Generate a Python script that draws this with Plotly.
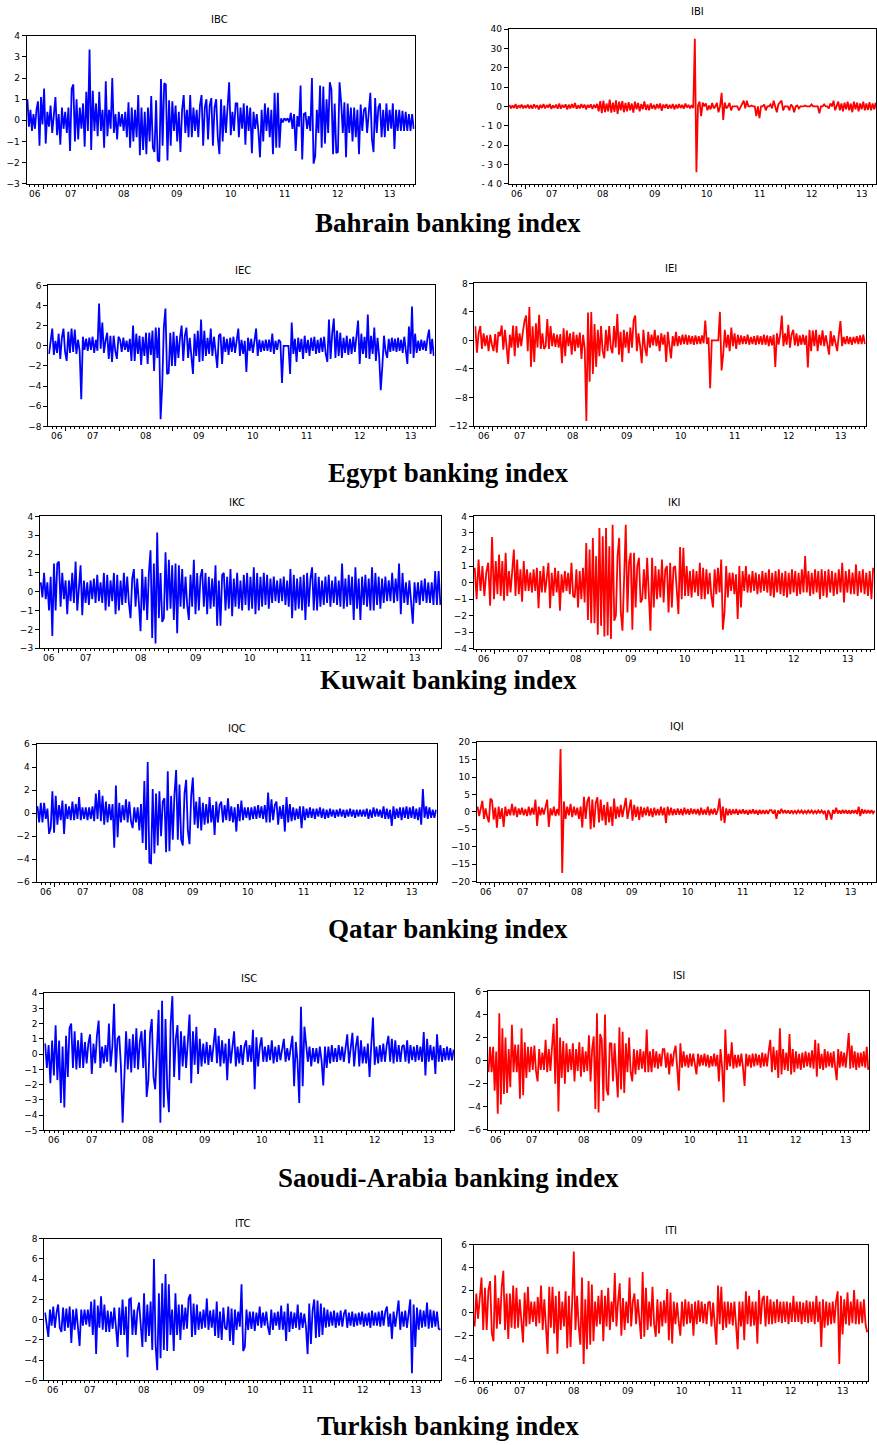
import plotly.graph_objects as go

W, H = 877, 1445
YEAR_STARTS = [2007, 2008, 2009, 2010, 2011, 2012, 2013]
YEAR_LABELS = ["06", "07", "08", "09", "10", "11", "12", "13"]
DATA_START, DATA_END = 2006.67, 2013.93

# Each series: one list per year segment (06 partial, 07 ... 12, 13 partial)
IBC = [
    [1.0, -0.3, 0.5, -0.5, 0.3, -0.4, 0.5, 0.9, -1.2, 1.1, -0.2],
    [1.5, -1.1, 0.4, -0.3, 0.7, -0.6, 0.5, 1.1, -0.7, 0.3, -1.15, 0.6, -0.4, 0.4, -0.6, 0.6, -1.45, 1.5, 1.7, -1.0, 1.0, -0.9, 0.6, -0.4, 0.8, -1.25, 1.35, -0.5, 3.35, -1.4, 1.4, -0.5, 0.8],
    [-0.75, 1.35, -0.5, 0.5, -1.3, 1.85, -0.75, 0.5, -0.4, 2.0, -0.6, 0.3, -0.9, 0.4, -0.3, 0.3, -0.5, 0.4, -0.8, 0.85, -1.3, 0.6, -1.0, 0.5, -0.8, 1.2, -1.65, 0.6, -1.4, 0.4, -1.6, 0.6, -1.0],
    [1.15, -1.3, -1.5, 0.95, -1.9, -1.95, 1.95, -1.2, 1.75, 1.7, -1.9, 0.95, -1.2, 0.9, -0.5, 0.7, -1.0, 0.4, -1.5, 0.5, 1.2, -0.6, 0.5, -0.8, 1.2, -0.8, 0.6, -0.5, 0.5, -0.8, 0.7, 1.2, -1.2],
    [0.6, 1.0, -0.9, 0.7, 1.05, -1.2, 0.6, 1.0, -0.8, -1.6, 1.0, -1.0, 0.7, -0.6, 0.5, 1.8, -0.7, 0.4, -0.5, 0.8, 0.8, -0.8, 0.6, -0.4, 0.8, -1.15, 0.7, -0.5, 0.6, -1.55, 0.4, -0.4, 0.3],
    [-0.5, -1.75, 0.5, -1.0, 0.8, -0.5, 0.6, -0.8, 0.5, -1.6, 1.3, -1.3, 1.3, -1.3, 0.1, -0.1, 0.1, 0.0, 0.1, -0.1, 0.35, -0.4, 0.3, -1.45, 0.2, -0.3, 1.65, -1.85, 0.3, 0.35, -0.4, 0.2, -0.5],
    [2.0, -2.05, -1.7, 0.5, -0.6, 1.65, -1.3, 1.6, -1.1, 1.0, -0.6, 1.8, 1.45, -1.6, 0.8, -1.55, -1.5, 1.8, 0.85, -0.6, 0.85, -1.75, 0.8, -0.6, 0.6, -1.0, 0.6, -0.8, 0.5, -1.6, 0.75, -0.5, 0.5],
    [0.6, -0.6, 0.5, 1.3, -0.9, -1.5, 1.05, -0.6, 0.6, 0.8, -0.8, 0.5, -0.8, 0.8, -0.5, 0.5, -0.4, 0.8, -1.35, 0.5, -0.5, 0.5, -0.5, 0.45, -0.5, 0.4, -0.5, 0.3, -0.5, 0.3, -0.4],
]
IBI = [
    [0.8, -1, 0.5, -0.8, 1.2, -1.2, 0.6, -0.5, 0.9, -1, 0.5],
    [-0.8, 1, -1, 0.7, -1.2, 1.1, -0.5, 0.6, -1.5, 0.8, -0.8, 1.2, -1, 0.7, -0.6, 1.3, -1.3, 0.5, -0.8, 1, -1.2, 1.5, -1.2, 0.8, -0.6, 1.1, -1.5, 0.9, -1, 1.2, -0.8, 1.8, -1.2],
    [0.6, -1, 1.2, -0.8, 1, -1.5, 0.8, -0.6, 1.1, -1.3, 0.9, -0.7, 1.3, -2.5, 2.8, -3.5, 3, -3, 1.5, -2.5, 3.5, -3.2, 2, -2.8, 3.2, -3.8, 2.5, -2, 2.8, -3, 1.8, -2.5, 2.2],
    [-2, 1.5, -3.2, 2.5, -1.5, 1.8, -2.5, 1.2, -1.5, 2.6, -1.8, 1, -2, 1.6, -1.2, 0.9, -1.5, 1.3, -1, 1.5, -2.2, 1, -0.8, 1.2, -1.2, 0.8, -1, 1.3, -1.5, 0.9, -1, 1.2, -0.8],
    [0.8, -1.2, 1.5, -0.5, 0.8, -1, 0.6, -0.8, 35, -34, 0.5, 2.5, -5, 2, 0, 1.5, -2, 0.5, -1.5, 1.8, -1, 0, 1.8, -3, 0, 7, -7, 2, -1, 0, 1.8, -2, 0],
    [0, 0, 0, -2, 0, 1, 3, -1, 3, 0, 0, 0.5, 0, 0, -5, 0, -6, 0, 0, 1, -2, 0, 0, 1, -1, 3, 0, -3, 1, 2, 3, -2, 0],
    [0, 0, -2, 1, 0, -3, 0, 0.5, -1, 0, 0, 0, 0.5, 0, 0, 0, 1, 0, 0, 0, 0, -3.5, 0, 0, 1, 0, 0, -1, 1.5, 0, 3, -2, 0.8],
    [2.5, -2, 1.5, -2.5, 2, -1.5, 2.5, -2, 1.5, -3, 2.5, -1.5, 2, -2.5, 1.5, -1.5, 2.5, -2, 1.5, -1.8, 2.2, -2, 1.5, -1.5, 2, -2.5, 1.5, -1.5, 2, -2, 1],
]
IEC = [
    [-0.8, 0.6, 1.7, -0.9, 0.5, -0.7, 1.2, -1.3, 0.8, 1.7, -0.6],
    [-1.5, 1.4, -0.7, 1.7, -0.6, 1.6, -0.8, 0.6, -0.5, -5.3, 0.9, -0.4, 0.7, -0.5, 0.8, -0.4, 0.9, -0.7, 0.6, -0.5, 4.2, -0.3, 2.3, -0.7, 0.5, 1.3, -1.3, 1.0, -1.6, 1.0, -0.5, -1.3, 0.9],
    [0.6, -0.6, 0.8, -0.4, 0.5, -0.6, 0.7, -1.5, 2.0, -1.5, 1.2, -0.8, 1.0, -1.9, 0.9, -1.0, 1.3, -1.8, 1.3, -0.9, 1.5, -2.5, 1.8, -1.2, 1.8, -7.3, -4.0, 1.8, 3.7, -2.8, -2.7, 1.3, -2.0],
    [1.4, -2.0, 1.0, -1.2, 0.8, 2.0, -1.5, 1.0, 1.8, -1.2, 0.8, -0.9, -2.8, 1.2, -1.0, 1.5, -1.6, 2.6, -1.5, 1.5, -1.0, 0.8, -0.8, 1.7, -1.0, 0.9, -0.7, -2.2, 1.0, 1.2, -1.8, 0.9, -0.6],
    [0.7, -0.9, 0.8, -0.6, 0.9, -0.7, 0.6, 1.7, -1.0, 0.6, -0.8, 0.5, -2.6, 0.8, -0.5, 0.7, -0.7, 0.6, 1.7, -1.0, 0.6, -0.6, 0.5, -0.5, 0.6, -0.5, 0.6, -0.6, 1.2, -0.8, 0.5, -0.4, 0.6],
    [0.4, -3.7, 0, 0, 0, 0, -2.8, 2.3, -0.8, 0.7, -1.6, 0.8, -0.6, 0.7, -1.3, 1.0, -0.7, 0.6, -1.0, 0.8, -0.5, 0.9, -0.8, 0.6, -0.7, 0.8, -0.6, 0.9, -0.8, -1.6, 2.6, -1.3, 1.2],
    [2.7, -1.2, 1.5, -1.0, 1.3, -1.2, 0.8, -0.7, 1.0, -0.9, 0.7, -0.8, 0.9, -0.6, 0.8, 2.5, -1.8, 1.2, -0.8, 0.9, -1.2, 3.1, -1.3, 1.0, -0.8, 1.8, -1.5, 0.8, -1.0, -4.4, -2.0, 1.0, -0.6],
    [-1.2, 0.7, -0.6, 0.8, -0.5, 0.7, -0.6, 0.8, -0.5, 0.6, -0.7, 0.9, -0.6, -1.8, 1.9, -0.8, 3.9, -1.2, 1.2, -0.7, 0.5, -0.5, 0.6, -0.4, 0.5, -0.5, 0.8, 1.6, -0.8, 0.7, -1.0],
]
IEI = [
    [2.0, -1.7, 1.0, 2.0, -1.2, 1.0, -0.8, 0.7, -1.5, 0.8, -0.6],
    [-1.5, 0.9, -1.7, 1.2, 0.6, 2.1, -1.3, 1.5, -0.8, -3.3, 0.8, -1.0, 2.1, -2.2, 2.0, -1.0, 1.0, -0.8, 1.2, 2.7, 3.5, -1.5, 4.7, -3.7, 2.0, -3.0, 2.4, -1.0, 3.6, -1.2, 1.0, -1.2, -0.8],
    [3.0, -1.2, 2.0, -0.8, 1.0, -0.9, 0.8, -1.0, 0.9, -3.2, 1.7, -2.2, 1.4, -0.8, 1.0, -2.0, 1.2, -1.5, 0.8, -1.0, 1.1, -2.6, 0.8, -1.2, -11.3, 3.9, -5.8, 4.0, -4.7, 2.3, -3.7, 1.5, -2.2],
    [2.0, -1.5, -2.5, 1.5, -1.5, 2.0, -1.0, -1.8, 2.0, -1.0, 3.7, -2.0, 1.2, -3.0, 1.5, -1.0, 1.2, -1.8, 1.8, -1.0, 2.8, 3.5, -1.5, 1.0, -0.8, -3.2, 1.5, -1.0, -2.2, 1.2, -1.0, 0.8, -0.7],
    [1.5, -0.8, 0.7, -1.5, 1.0, -0.6, 0.8, -3.0, 1.2, -0.8, -2.5, 0.6, -0.8, 1.2, -0.8, 0.6, -0.6, 0.8, -0.5, 0.8, -0.6, 0.7, -0.5, 0.6, -0.6, 0.7, -0.5, 0.6, -0.5, 0.7, -0.4, 2.8, -0.5],
    [0.4, -6.7, 0, 0, 0, 0, 0, 4.0, -4.2, -2.0, 1.5, -1.0, 0.8, -1.5, 1.8, -0.8, 1.0, -1.2, 0.8, -0.6, 0.7, -0.5, 0.6, -0.5, 0.8, -0.6, 0.5, -0.5, 0.6, -0.6, 0.7, -0.5, 0.6],
    [-0.6, 0.8, -0.6, 0.7, -0.8, 0.6, -0.7, 0.8, -3.7, 1.0, -0.6, 0.8, 3.5, -0.8, 1.0, -0.6, 2.2, -1.0, 0.8, 1.5, -0.7, 1.0, -0.8, 0.7, -0.6, 0.8, -0.6, 0.7, -3.8, 1.5, -1.5, 1.4, -0.8],
    [1.5, -1.5, 0.8, -0.7, 1.4, -0.8, 0.7, -0.6, -2.0, 1.3, -0.8, 0.7, -0.6, -1.5, 0.8, 2.7, -0.8, 0.5, -0.5, 0.6, -0.5, 0.5, -0.6, 0.5, -0.4, 0.6, -0.5, 0.7, -0.5, 0.8, -0.5],
]
IKC = [
    [0.5, -0.3, 1.0, -0.4, 0.5, -1.0, 0.8, -2.35, 1.5, -1.0, 1.5],
    [1.6, -0.8, 1.0, -0.4, 0.6, -1.2, 0.6, -0.5, 1.0, -0.6, 1.6, -1.0, 0.5, 1.4, -1.25, 0.6, -0.6, 0.5, -0.7, 0.6, -0.4, 0.7, -0.6, 0.9, -0.5, 0.5, -0.6, 1.0, -1.0, 0.9, -0.8, 0.6, -0.5],
    [1.0, -1.2, 0.9, -1.0, 0.6, -0.7, 1.0, -0.6, 0.8, -0.6, -1.4, 0.7, 1.2, -0.8, 0.7, -0.6, -2.1, 1.2, -1.0, 0.8, -1.5, 1.0, 2.2, -2.45, 1.5, -2.75, 3.15, -1.4, 1.0, -1.6, -1.4, 2.1, -1.0],
    [1.7, -0.9, 1.4, -1.5, 1.5, -2.2, 1.4, -0.8, 1.2, -0.9, 0.8, -0.7, -1.5, 0.9, -0.8, 1.7, -1.2, 1.0, -1.0, 0.8, 1.2, -0.8, 1.0, -1.2, 0.8, -0.9, 0.7, -0.8, 1.4, -1.8, 0.6, -1.8, 0.9],
    [1.0, -1.0, 0.8, -0.9, 1.2, -1.3, 0.7, -0.8, 1.0, -0.9, 0.6, -1.0, 0.9, -0.7, 1.0, -1.0, 0.8, -0.9, 1.3, -1.2, 1.0, -1.0, 0.8, -0.8, 1.0, -0.7, 0.9, -0.9, 0.7, -0.6, 0.8, -0.5, 0.6],
    [-0.6, 0.7, -0.5, 0.8, -0.7, 0.6, -0.8, 1.2, -1.4, 0.9, -1.0, 0.7, -0.9, 0.8, -1.0, 0.9, -1.5, 1.0, -0.8, 0.7, 1.3, -1.0, 1.0, -1.0, 0.8, -0.8, 0.6, -0.7, 0.8, -0.6, 0.9, -0.8, 0.6],
    [-0.6, 0.8, -0.7, 0.6, -0.8, 1.5, -0.9, 0.7, -0.8, 0.9, -0.7, 0.8, -1.5, 1.3, -0.9, 0.7, -1.5, 0.8, -0.7, 0.9, -0.8, 0.7, -1.0, 1.3, -1.0, 1.0, -0.7, 0.8, -0.9, 0.7, -0.6, 0.8, -0.5],
    [0.6, -0.5, 1.0, -0.6, 0.7, -0.5, 1.5, -1.2, 1.0, -0.6, 0.5, -0.7, 0.6, -0.5, -1.7, 0.5, -0.6, 0.5, -0.7, 0.6, -0.5, 0.7, -0.6, 0.5, -0.6, 0.5, -0.7, 1.1, -0.7, 1.1, -0.7],
]
IKI = [
    [0.9, -1.0, 1.4, -0.5, 1.0, -0.8, 0.6, 1.2, -1.4, 2.75, -1.0],
    [1.3, -0.7, 1.7, -0.8, 1.3, -1.1, 1.8, -0.8, 0.7, -0.6, 0.6, 2.0, -0.8, 1.4, -0.7, 0.8, -1.15, 1.3, -0.5, 0.8, -0.5, 0.6, -0.6, 0.8, -0.5, 0.9, -1.55, 0.7, -0.6, 1.0, -0.6, 0.5, 1.2],
    [-1.55, 0.6, -0.8, 0.9, -0.6, 0.7, -1.7, 0.5, -0.6, 0.7, -0.5, 0.6, -0.7, 1.2, -0.8, -0.9, 0.8, -1.5, 0.7, -1.0, 0.9, -1.2, 2.4, -2.25, 2.0, -2.45, 2.7, -2.45, 1.6, -3.15, 3.3, -2.6, 2.8],
    [-3.25, 3.3, -3.2, 2.2, -3.4, 3.5, -2.3, -2.0, 1.6, 2.7, -1.8, -2.9, 1.0, 3.5, -1.8, 1.2, 1.8, -2.85, 1.8, -1.5, 1.0, 1.5, -1.2, -1.0, 0.8, -1.0, 1.5, -0.9, -2.9, 1.5, -1.5, 1.0, -1.0],
    [0.8, -0.9, 1.4, -1.2, 0.8, 1.0, -1.8, 1.2, -1.5, 0.9, 1.0, -0.8, -1.9, 2.15, -1.0, 2.1, -0.8, 1.0, -0.8, 0.7, -0.9, 0.8, -0.6, 0.7, -0.8, 1.2, -1.0, 0.9, -1.0, 0.8, -0.7, 0.6, -0.8],
    [-1.5, 0.8, -0.7, 0.9, -0.6, 1.4, -2.85, -1.8, 1.0, -0.9, 0.6, -0.5, 0.6, -0.7, 0.5, -2.2, 1.0, -1.5, 0.7, -0.5, 1.0, -0.6, 0.5, -0.6, 0.7, -0.5, 0.6, -0.7, 0.5, -0.6, 0.7, -0.5, 0.6],
    [-0.6, 0.8, -0.8, 0.6, -0.9, 0.7, -0.6, 0.8, -0.7, 0.6, -0.8, 0.7, -0.9, 0.6, -0.7, 0.8, -0.6, 0.7, -0.8, 0.6, -0.7, 0.8, -0.6, 1.6, -0.6, 0.7, -0.8, 0.6, -0.7, 0.8, -0.6, 0.7, -1.0],
    [0.8, -0.8, 0.7, -0.9, 0.8, -0.6, 0.7, -0.8, 0.6, -0.7, 0.8, -0.6, 1.2, -1.2, 0.7, -0.6, 0.8, -0.7, 0.6, -0.7, 1.1, -0.8, 0.7, -0.6, 0.8, -0.7, 0.6, -0.8, 0.7, -1.0, 0.9],
]
IQC = [
    [0.6, -0.8, 0.9, -0.8, 0.9, -0.5, 0.4, -1.8, -1.3, 1.9, -1.7],
    [1.5, -1.0, 0.7, -0.6, 1.1, -1.8, 0.8, -0.5, 0.6, -0.6, 1.0, -0.6, 0.8, -0.5, 1.4, -0.6, 0.5, -0.5, 0.5, -0.6, 0.5, -0.5, 0.6, -0.7, 1.7, -0.5, 2.0, -0.7, 1.5, -1.0, 1.0, -0.8, 0.8],
    [-0.6, 0.8, -3.0, 2.4, -2.1, 0.9, -0.8, 0.7, -0.6, 1.2, -0.8, 1.0, -0.7, -1.3, 0.5, -0.8, 0.5, -1.5, 0.8, -2.6, 2.8, -3.2, 4.45, -4.3, -4.35, 2.1, -3.5, 1.7, -2.8, 1.9, -2.0, 1.0, 1.3],
    [-3.4, 3.65, -3.3, 1.5, -2.3, 1.6, 3.75, -2.3, 2.5, -2.3, -2.8, 1.7, 2.9, -1.5, -2.7, 1.5, 3.1, -1.0, 1.0, -1.3, 1.4, -1.5, 0.9, -1.0, 0.8, -0.9, 1.4, -0.8, 0.7, -1.9, 1.0, -0.8, 0.7],
    [1.0, -0.8, 0.7, -0.6, 1.3, -0.7, 0.6, -0.8, 0.5, -1.6, 0.8, -0.7, 1.1, -0.6, 0.5, -0.4, 0.5, -0.6, 0.5, -0.5, 0.6, -0.5, 0.7, -0.4, 0.6, -0.5, 0.7, -0.8, 1.8, -0.8, 1.2, -0.6, 0.7],
    [1.0, -1.0, 0.6, -0.5, 0.7, -1.6, 1.4, -0.8, 0.8, -0.7, 0.5, -0.6, 0.4, -0.5, 0.6, -1.3, 0.6, -0.6, 0.4, -0.4, 0.5, -0.4, 0.4, -0.5, 0.4, -0.3, 0.5, -0.4, 0.4, -0.5, 0.3, -0.4, 0.4],
    [-0.3, 0.3, -0.4, 0.3, -0.3, 0.4, -0.3, 0.3, -0.4, 0.3, -0.3, 0.4, -0.3, 0.3, -0.4, 0.3, -0.3, 0.3, -0.3, 0.3, -0.3, 0.4, -0.5, 0.3, -0.4, 0.5, -0.3, 0.4, -0.3, 0.3, -0.4, 0.6, -0.5],
    [0.4, -0.5, 0.3, -1.1, 0.6, -0.5, 0.4, -0.4, 0.5, -0.6, 0.5, -0.4, 0.6, -0.5, 0.5, -0.4, 0.6, -0.5, 0.4, -0.6, 0.5, -1.0, 2.1, -0.4, 0.6, -0.5, 0.5, -0.4, 0.3, -0.4, 0.3],
]
IQI = [
    [1.5, -1.2, 1.0, 3.2, -2.0, 1.0, -1.5, -3.0, 3.8, 3.3, -2.2],
    [1.2, -4.5, 1.5, -2.0, 1.0, -4.3, 1.5, -1.2, 0.8, -1.0, 2.3, -1.0, 1.5, -1.5, 1.0, -0.8, 1.2, -1.0, 0.8, -1.2, 1.5, -1.0, 1.2, -0.8, 3.5, -4.0, 1.5, -1.0, 1.2, -0.8, 1.0, 3.5, -4.3],
    [1.0, -1.0, 1.5, -1.2, 0.8, -1.0, 18.0, -17.5, 3.0, -2.0, 1.5, -1.0, 2.3, -1.5, 1.5, -1.0, 1.2, -2.0, 1.5, -4.5, 4.3, -2.0, 3.0, 4.3, -5.0, 3.5, -4.5, 2.5, 4.2, -3.0, 3.5, -2.5, 2.0],
    [-3.8, 2.8, -3.0, 1.5, -4.0, 3.8, -2.0, 1.5, -1.5, 2.0, -1.5, 1.2, 4.0, -2.0, 1.5, 3.5, -2.5, 2.0, -1.5, 1.5, -2.3, 1.5, -1.5, 1.2, -1.0, 1.5, -1.2, 1.0, -1.5, 1.2, -1.0, 0.8, -1.0],
    [1.5, -1.0, 1.2, -3.2, 1.5, -1.0, 1.2, -1.0, 0.8, -0.8, 1.0, -0.8, 0.8, -1.0, 1.2, -0.7, 0.8, -0.8, 1.0, -0.6, 0.8, -0.7, 0.8, -1.0, 1.2, -0.8, 0.7, -0.8, 1.5, -1.0, 0.8, -0.7, 1.0],
    [-0.8, 0.5, 3.9, -2.5, 1.5, -3.2, 1.0, -1.0, 0.8, -0.8, 0.7, -0.6, 0.8, -0.8, 0.6, -0.5, 0.7, -0.6, 0.5, -0.8, 0.6, -0.5, 0.7, -0.6, 0.5, -0.8, 0.6, -0.6, 0.5, -0.6, 0.5, -0.6, 0.5],
    [0.5, -0.5, 0.6, -2.0, 0.4, -0.5, 0.9, -0.4, 0.5, -0.4, 0.4, -0.5, 0.4, -0.4, 0.3, -0.4, 0.4, -0.3, 0.4, -0.4, 0.3, -0.4, 0.4, -0.3, 0.4, -0.4, 0.3, -0.4, 0.4, -0.3, 0.4, -0.4, 0.3],
    [-2.3, 0.5, -0.4, -2.2, 0.6, -0.5, 1.2, -0.5, 0.4, -0.5, 0.6, -0.4, 0.5, -0.5, 0.4, -0.6, 0.5, -0.4, 0.5, -0.6, 1.5, -1.2, 0.8, -0.5, 0.6, -0.4, 0.5, -0.4, 0.5, -0.4, 0.3],
]
ISC = [
    [0.7, -0.9, 0.6, -1.9, 0.9, -1.4, 1.9, -1.7, 0.9, -3.2, 0.5],
    [-3.5, 1.2, -1.5, 1.7, 2.0, -0.9, 1.5, -1.0, 0.9, -0.9, 1.4, -0.9, 0.8, -0.6, 0.7, 1.3, -1.3, 0.7, -0.6, 1.2, 2.2, -0.9, 0.5, -0.6, 0.6, -0.5, 2.0, -0.8, 0.5, 3.3, -1.2, 1.0, 1.2],
    [-0.8, -4.5, -1.5, 1.5, -1.0, 1.0, -1.2, 1.3, -0.9, 1.7, -1.0, 0.8, 1.5, -0.9, 1.6, -2.8, -1.7, 1.4, 2.3, -1.5, -2.3, 1.0, 2.9, -4.5, 3.5, -3.5, 2.3, -2.2, -3.8, 2.0, 3.8, -1.5, 1.0],
    [1.9, -1.7, 1.5, -0.8, 1.2, -0.9, 0.8, 2.6, -1.9, 1.5, -0.7, 1.8, -1.3, 1.0, -0.8, 0.7, -0.6, 0.8, -0.7, 0.6, -0.5, 0.7, 1.7, -0.6, 1.2, -0.8, 0.9, -0.6, 0.7, -1.7, 1.0, -0.6, 0.5],
    [1.5, -0.8, 0.5, -0.6, 0.6, -0.7, 0.5, 0.9, -0.5, 0.6, -0.5, 1.6, -2.3, 1.1, -0.8, 0.5, 1.1, -0.5, 0.5, -0.5, 0.6, -0.4, 0.9, -0.6, 0.5, -0.5, 0.6, -0.4, 0.5, 1.0, -0.5, 0.4, -0.4],
    [0.5, 1.2, -2.1, 0.8, -0.5, -3.2, 3.1, -2.1, 1.8, 0.6, -0.5, 0.5, -0.8, 0.4, -0.5, 0.4, -0.6, 0.5, -0.4, -2.05, 0.5, -0.9, 0.5, -0.6, 0.6, -0.5, 0.4, -0.5, 0.6, -0.4, 0.5, -0.5, 0.6],
    [1.3, -0.6, 0.5, 1.4, -0.8, 0.5, 1.2, -0.8, 0.9, -0.6, 0.5, -0.6, 0.7, -1.5, 0.6, 2.4, -0.7, 0.5, -0.6, 0.6, -0.5, 0.7, -0.5, 0.6, 1.2, -0.5, 1.0, -0.6, 0.9, -0.5, 0.6, -0.5, 0.5],
    [0.6, -0.5, 0.9, -0.6, 0.6, -0.4, 0.5, -0.5, 0.6, -0.4, 0.5, -0.5, 1.45, -1.4, 1.0, -0.5, 0.6, -0.4, 0.5, -1.3, 1.3, -0.5, 0.6, -0.5, 0.4, -0.4, 0.5, -0.4, 0.4, -0.4, 0.3],
]
ISI = [
    [-1.0, 1.2, -1.0, 1.2, -2.6, 0.8, -4.6, 4.1, -3.8, 2.8, -2.9],
    [2.0, -2.8, 1.0, -2.3, 3.1, -1.0, 1.4, -1.0, 1.4, -3.3, 2.8, -3.0, 1.6, -1.5, 1.2, -1.0, 1.2, -0.8, 1.3, -0.9, -1.8, 1.0, -0.8, 0.7, -0.8, 1.8, -1.0, 1.0, -0.9, 1.2, 3.2, -2.0, 3.7],
    [-4.4, 2.0, -1.5, 1.7, -2.0, 1.5, -1.0, 1.0, -0.8, 1.5, -1.8, 1.0, -0.9, 1.6, -1.4, 1.2, -1.0, 0.8, -0.9, 2.2, -1.8, 1.0, 2.1, -4.2, 4.1, -4.5, 2.3, 1.8, -3.5, 4.0, -2.5, -3.0, 1.5],
    [1.5, -1.8, 1.5, -1.0, -3.2, 2.9, -2.5, 2.5, -2.8, 1.5, -1.0, 2.0, -1.0, -1.8, 1.0, -1.2, 0.9, -0.8, 1.0, -0.7, 0.8, -1.0, 2.7, -1.0, 0.8, -1.0, 1.0, -0.6, 0.8, -0.7, 0.6, -0.5, 1.0],
    [1.0, -0.6, 0.7, -1.2, 0.6, -0.5, 0.7, 1.3, -0.6, -2.6, 1.5, -0.6, 0.8, -0.5, 0.5, -0.6, 0.6, -0.5, 0.6, -0.4, -1.2, 0.6, -0.5, 0.5, -0.4, 0.6, -0.5, 0.5, -0.6, 0.4, -0.5, 0.6, -0.5],
    [0.5, -1.8, 1.0, -0.6, -3.6, 2.7, -0.8, 0.6, -0.5, 1.6, -0.7, 0.5, -0.6, 0.5, -0.5, 0.6, -0.6, -2.2, 0.6, -0.5, 0.5, -0.6, 0.6, -0.5, 0.6, -0.4, 0.5, -0.6, 0.7, -0.5, 0.6, -0.5, 0.8],
    [1.8, -1.0, 1.2, -0.8, 0.9, -1.5, 2.8, -1.2, 1.0, -0.8, 0.7, -0.9, 2.3, -1.2, 1.0, -1.0, 0.8, -0.7, 0.6, -0.8, 0.7, -0.6, 0.8, -0.5, 0.7, -0.6, 0.9, -0.7, 1.8, -1.4, 1.5, -0.7, 0.6],
    [-0.8, 1.0, -0.6, 0.8, -0.5, 0.7, -0.6, 0.8, -0.6, -1.7, 1.0, -0.6, 0.8, -0.5, 0.7, -0.6, 0.8, 2.4, -0.7, 1.3, -0.6, 0.8, -0.8, 0.7, -0.6, 0.7, -0.5, 0.8, -0.6, 1.2, -0.8],
]
ITC = [
    [0.7, -0.8, -1.7, 1.0, -0.6, 1.3, -0.8, 0.7, 1.5, -0.8, -1.2],
    [1.2, -1.1, 1.1, -0.8, 1.3, -2.3, 1.0, -1.0, 1.1, -0.7, -2.6, 1.0, -0.6, 1.0, -0.5, 1.0, -0.7, 1.8, -1.5, 2.0, -3.4, 1.4, -0.8, 2.3, -1.0, 1.5, -1.2, 0.9, -1.2, 0.8, -0.9, 1.2, -0.8],
    [-2.7, 1.2, -1.5, 2.0, -1.5, 1.3, -3.7, 2.0, 2.1, -1.5, 1.0, -1.5, 0.9, 1.7, -1.0, -2.7, 2.6, -2.2, 1.5, -1.6, 1.8, -3.0, 6.0, -2.5, -5.0, 2.6, -3.8, 3.6, -3.0, 4.5, -3.1, 3.5, -1.5],
    [1.0, -3.1, 2.6, -1.5, 1.5, -2.0, 1.5, -1.0, 1.2, -0.9, 2.1, 2.5, -1.7, 1.6, -1.5, 1.5, -1.0, 0.8, -0.9, 1.0, -0.8, 2.1, -1.0, 0.9, -0.8, 1.0, -1.6, 1.8, -1.8, 0.8, -2.0, 1.2, -0.8],
    [-1.0, 1.3, -2.1, 1.1, -2.5, 1.0, -1.0, 0.8, -0.7, 3.5, -3.1, -2.7, 1.0, -1.0, 0.8, -0.9, 0.8, -1.1, 0.7, -0.6, 1.3, -0.8, 0.7, -0.6, 0.8, -0.7, -1.5, 1.0, -1.0, 0.7, -0.6, 0.8, -1.0],
    [1.4, -1.0, 0.8, -2.1, 1.6, -1.2, 0.8, -0.9, 0.7, -0.8, 1.5, -1.0, 0.7, -0.8, 0.6, -0.7, -3.4, 1.6, -2.4, 0.9, 2.0, -1.8, 1.9, -1.7, 1.6, -1.5, 1.2, -0.8, 1.0, -0.7, 0.8, -0.6, 0.9],
    [-0.8, 0.7, -0.6, 0.9, -0.7, 0.6, 1.0, -0.8, 0.7, -0.6, 0.8, -0.7, 0.6, -0.6, 0.7, -0.5, 0.8, -0.7, 0.6, -0.6, 0.7, -0.8, 0.9, -0.6, 0.7, -0.6, 0.8, -0.7, 0.9, -0.6, 0.8, 1.3, -0.7],
    [0.6, -1.9, 0.8, -0.7, 0.9, 1.9, -1.0, 0.8, -0.7, 0.9, -0.8, 0.8, 2.0, -5.3, 1.5, -2.7, 1.2, -1.0, 1.0, -0.8, 0.9, -0.7, 1.7, -0.9, 1.0, -0.8, 0.9, -0.7, 0.8, -0.9, -1.0],
]
ITI = [
    [-1.2, 1.7, -0.5, 1.0, 3.1, -1.5, 2.2, -1.5, 2.0, 2.8, -1.8],
    [-2.5, 3.3, -1.4, 1.3, -1.0, 2.3, 3.7, -1.5, 1.7, -2.3, 1.7, -1.3, 2.4, -1.4, 2.2, -1.3, 1.2, -1.0, -2.6, 1.8, -1.2, 2.3, -1.0, 1.0, -0.8, 1.0, -1.2, 1.4, -0.9, 2.4, -1.5, 1.2, -0.9],
    [-3.6, 2.3, -1.3, 2.3, -1.8, 1.5, -3.6, 1.9, -1.5, 1.0, -1.2, 1.9, -3.1, 1.5, -3.0, 1.0, 5.4, -1.5, 1.5, -1.2, -2.8, 3.1, -4.5, 1.2, -3.2, 2.8, -2.8, 2.5, -2.5, 1.0, -1.2, 1.5, -1.0],
    [2.0, -2.5, 1.5, -1.2, 2.2, -1.5, 1.0, -0.8, 3.5, -1.2, 1.0, 2.6, -2.0, 1.3, -1.5, 1.0, -0.9, 3.1, -1.2, 1.0, 1.7, -1.0, 1.2, -1.0, -2.3, 3.6, -2.1, 2.2, -1.5, 1.0, -1.2, 2.3, -1.0],
    [-2.1, 1.2, -1.8, 1.0, -1.2, 1.1, -0.9, 2.1, -2.4, 1.8, -2.7, 1.0, -1.0, 0.9, -0.8, -2.0, 1.0, -1.2, 1.2, -1.0, 1.0, -0.9, 0.8, -2.0, 1.0, -1.0, 1.1, -0.8, 1.0, -0.9, 0.8, -1.0, 0.9],
    [1.0, -1.2, 0.9, -1.0, -2.8, 2.4, -1.0, 2.3, -1.5, 1.0, -1.3, 1.0, -1.0, 0.9, -1.1, 1.0, -1.0, -3.2, 1.0, -1.2, 1.0, -2.4, 1.9, -1.0, 1.5, -1.2, 1.0, -1.1, 1.0, -2.7, 2.0, -1.0, 1.2],
    [1.5, -1.2, 1.5, -1.0, 1.2, -1.0, 1.0, -0.9, 1.2, -0.8, 1.0, -0.9, 1.0, -0.8, 1.0, -1.0, 0.9, -0.8, 1.5, -0.8, 1.0, -0.8, 1.0, -1.0, 0.9, -0.8, 1.1, -0.9, 1.0, -0.8, 1.0, -1.0, 1.5],
    [-0.8, 1.0, -3.0, 1.2, -1.3, 1.0, -1.1, 0.9, -1.0, 1.0, -0.9, 1.0, 1.9, -4.5, 1.5, -1.9, 1.2, -1.0, 1.8, -1.1, 1.0, -0.9, 2.0, -1.0, 1.2, -1.0, 1.0, -0.9, 1.2, -1.0, -1.7],
]

CAPTIONS = ["Bahrain banking index", "Egypt banking index", "Kuwait banking index",
            "Qatar banking index", "Saoudi-Arabia banking index", "Turkish banking index"]

BLUE, RED = "#0000ff", "#ff0000"

# name, data, color, box (px: x0, x1, y0, y1), x range, y range, y tick values, y tick text, title pos (px)
PANELS = [
    ("IBC", IBC, BLUE, (26.7, 415.0, 31.0, 180.0), (2006.69, 2013.93), (-3, 4), list(range(-3, 5)), None, (220, 15)),
    ("IBI", IBI, RED, (509.3, 877.0, 24.3, 180.0), (2006.68, 2013.74), (-40, 40), list(range(-40, 41, 10)),
     ["- 4 0", "- 3 0", "- 2 0", "- 1 0", "0", "10", "20", "30", "40"], (698, 7)),
    ("IEC", IEC, BLUE, (48.3, 435.0, 282.3, 424.3), (2006.67, 2013.90), (-8, 6), list(range(-8, 7, 2)), None, (243, 267)),
    ("IEI", IEI, RED, (475.0, 866.7, 280.3, 424.0), (2006.66, 2013.94), (-12, 8), list(range(-12, 9, 4)), None, (672, 265)),
    ("IKC", IKC, BLUE, (40.0, 441.7, 515.0, 647.7), (2006.67, 2013.97), (-3, 4), list(range(-3, 5)), None, (237, 501)),
    ("IKI", IKI, RED, (474.3, 875.0, 515.0, 648.3), (2006.61, 2013.98), (-4, 4), list(range(-4, 5)), None, (675, 501)),
    ("IQC", IQC, BLUE, (36.7, 437.3, 744.3, 883.3), (2006.67, 2013.92), (-6, 6), list(range(-6, 7, 2)), None, (237, 729)),
    ("IQI", IQI, RED, (477.3, 876.5, 742.3, 882.7), (2006.68, 2013.90), (-20, 20), list(range(-20, 21, 5)), None, (678, 727)),
    ("ISC", ISC, BLUE, (44.3, 455.0, 995.0, 1133.3), (2006.66, 2013.91), (-5, 4), list(range(-5, 5)), None, (249, 980)),
    ("ISI", ISI, RED, (488.3, 870.0, 993.3, 1132.7), (2006.68, 2013.88), (-6, 6), list(range(-6, 7, 2)), None, (680, 977)),
    ("ITC", ITC, BLUE, (44.3, 441.7, 1242.3, 1385.0), (2006.67, 2013.95), (-6, 8), list(range(-6, 9, 2)), None, (243, 1227)),
    ("ITI", ITI, RED, (474.3, 869.0, 1248.3, 1385.7), (2006.65, 2013.94), (-6, 6), list(range(-6, 7, 2)), None, (672, 1234)),
]
CAPTION_Y = [220, 471, 680, 930, 1181, 1431]

TICK_FONT = dict(family="DejaVu Sans, Arial, sans-serif", size=9, color="black")


def series_xy(segments, x0, x1):
    bounds = [x0] + YEAR_STARTS + [x1]
    xs, ys = [], []
    for k, seg in enumerate(segments):
        a, b = bounds[k], bounds[k + 1]
        n = len(seg)
        for j, v in enumerate(seg):
            xs.append(a + (j + 0.5) * (b - a) / n)
            ys.append(v)
    return xs, ys


fig = go.Figure()
layout = dict(
    width=W, height=H, margin=dict(l=0, r=0, t=0, b=0, pad=0),
    paper_bgcolor="white", plot_bgcolor="white", showlegend=False,
)
annotations = []

for i, (name, data, color, box, xr, yr, ytv, ytt, tpos) in enumerate(PANELS, start=1):
    px0, px1, py0, py1 = box
    d0 = xr[0]
    d1 = DATA_END if name == "IBI" else xr[1]
    xs, ys = series_xy(data, d0, d1)
    fig.add_trace(go.Scatter(
        x=xs, y=ys, mode="lines", line=dict(color=color, width=1.8),
        xaxis=f"x{i}", yaxis=f"y{i}", hoverinfo="skip", showlegend=False,
    ))
    months = []
    for yy in range(2006, 2014):
        for m in range(1, 12):
            v = yy + m / 12.0
            if xr[0] < v < xr[1]:
                months.append(v)
    layout[f"xaxis{i}"] = dict(
        domain=[px0 / W, min(px1 / W, 1.0)], range=list(xr), anchor=f"y{i}",
        showline=True, mirror=True, linecolor="black", linewidth=1,
        showgrid=False, zeroline=False,
        ticks="outside", tickvals=YEAR_STARTS, ticklen=4, tickwidth=1, tickcolor="black",
        showticklabels=False, fixedrange=True,
        minor=dict(tickvals=months, ticks="outside", ticklen=2, tickwidth=1, tickcolor="black"),
    )
    ydict = dict(
        domain=[1 - py1 / H, 1 - py0 / H], range=list(yr), anchor=f"x{i}",
        showline=True, mirror=True, linecolor="black", linewidth=1,
        showgrid=False, zeroline=False,
        ticks="outside", ticklen=4, tickwidth=1, tickcolor="black",
        tickvals=ytv, tickfont=TICK_FONT, fixedrange=True,
    )
    if ytt is not None:
        ydict["ticktext"] = ytt
    layout[f"yaxis{i}"] = ydict

    # year labels centred on each year's visible span
    bounds = [d0] + YEAR_STARTS + [d1]
    for k, lab in enumerate(YEAR_LABELS):
        mid = (bounds[k] + bounds[k + 1]) / 2.0
        annotations.append(dict(
            x=mid, xref=f"x{i}", y=1 - (py1 + 3) / H, yref="paper",
            text=lab, showarrow=False, xanchor="center", yanchor="top",
            font=TICK_FONT,
        ))
    annotations.append(dict(
        x=tpos[0] / W, y=1 - tpos[1] / H, xref="paper", yref="paper",
        text=name, showarrow=False, xanchor="center", yanchor="middle",
        font=dict(family="DejaVu Sans, Arial, sans-serif", size=10, color="black"),
    ))

for cap, cy in zip(CAPTIONS, CAPTION_Y):
    annotations.append(dict(
        x=449 / W, y=1 - cy / H, xref="paper", yref="paper",
        text=f"<b>{cap}</b>", showarrow=False, xanchor="center", yanchor="middle",
        font=dict(family="Liberation Serif, Times New Roman, serif", size=27, color="black"),
    ))

layout["annotations"] = annotations
fig.update_layout(**layout)
fig.write_html(
    "out.html",
    config={"displayModeBar": False, "staticPlot": True},
    post_script="document.body.style.margin='0px';document.body.style.padding='0px';",
)
